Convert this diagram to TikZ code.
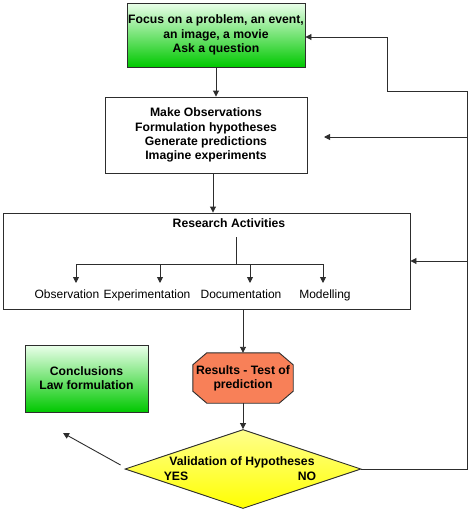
\documentclass[tikz,border=0pt]{standalone}
\usepackage{fontspec}
\setmainfont{Liberation Sans}
\usetikzlibrary{shapes.geometric,arrows.meta}
\definecolor{linegray}{RGB}{45,45,45}
\definecolor{boxgreen}{RGB}{0,200,0}
\definecolor{octfill}{RGB}{248,128,88}
\begin{document}
\begin{tikzpicture}[x=1pt,y=-1pt,
  every node/.style={font=\fontsize{12.2}{14.2}\selectfont, align=center, inner sep=0pt},
  plainbox/.style={draw=linegray, line width=0.9pt, fill=white},
  greenbox/.style={draw=linegray, line width=0.9pt, top color=green!8!white, bottom color=boxgreen},
  bold/.style={font=\fontsize{12.2}{14.2}\selectfont\bfseries},
  lbl/.style={font=\fontsize{12}{14}\selectfont, anchor=base},
  conn/.style={draw=linegray, line width=0.9pt},
  arr/.style={conn, -{Triangle[length=6pt,width=6pt]}}
]
\useasboundingbox (0,0) rectangle (474,515);

% boxes
\node[greenbox, bold, minimum width=178pt, minimum height=64pt] (focus) at (216,35)
  {Focus on a problem, an event,\\ an image, a movie\\ Ask a question};
\node[plainbox, bold, minimum width=202pt, minimum height=76pt] (obs) at (206,135)
  {Make Observations\\ Formulation hypotheses\\ Generate predictions\\ Imagine experiments};
\node[plainbox, minimum width=407pt, minimum height=96pt] (res) at (206.5,261) {};
\node[bold] (restitle) at (229,223) {Research Activities};
\coordinate (split) at (236,237);
\coordinate (bar) at (236,264);
\node[lbl] (a1) at (67,298.5) {Observation};
\node[lbl] (a2) at (147,298.5) {Experimentation};
\node[lbl] (a3) at (241,298.5) {Documentation};
\node[lbl] (a4) at (325,298.5) {Modelling};
\coordinate (b1) at (76,264);
\coordinate (b2) at (160,264);
\coordinate (b3) at (250,264);
\coordinate (b4) at (323,264);

% octagon
\node[bold, minimum width=100pt, minimum height=50pt] (result) at (243,378) {};
\filldraw[draw=linegray, line width=0.9pt, fill=octfill]
  ([xshift=14pt]result.north west) -- ([xshift=-14pt]result.north east)
  -- ([yshift=-12pt]result.north east) -- ([yshift=12pt]result.south east)
  -- ([xshift=-14pt]result.south east) -- ([xshift=14pt]result.south west)
  -- ([yshift=12pt]result.south west) -- ([yshift=-12pt]result.north west) -- cycle;
\node[bold] (resultt) at (result.center) {Results - Test of\\ prediction};

\node[greenbox, bold, minimum width=123pt, minimum height=67pt] (concl) at (86.5,378.5)
  {Conclusions\\ Law formulation};
\node[diamond, draw=linegray, line width=0.9pt, top color=yellow!45!white, bottom color=yellow,
  minimum width=236pt, minimum height=79pt] (valid) at (243,469) {};
\node[bold] (validt) at (242,462) {Validation of Hypotheses};
\node[bold] (yes) at (176,476) {YES};
\node[bold] (no) at (307,476) {NO};

% main flow
\draw[arr] (focus.south -| 216,0) -- (obs.north -| 216,0);
\draw[arr] (obs.south -| 213,0) -- (res.north -| 213,0);
\draw[arr] (res.south -| 243,0) -- (result.north);
\draw[arr] (result.south) -- (result.south |- valid.north);

% research activities tree
\draw[conn] (split) -- (bar);
\draw[conn] (b1) -- (b4);
\draw[arr] (b1) -- ++(0,19);
\draw[arr] (b2) -- ++(0,19);
\draw[arr] (b3) -- ++(0,19);
\draw[arr] (b4) -- ++(0,19);

% YES arrow
\coordinate (yesend) at (63,433);
\draw[arr] (valid.west) ++(-4,-4) -- (yesend);

% NO feedback loop
\coordinate (r0) at (467,469);
\coordinate (r1) at (467,91);
\coordinate (r2) at (387,91);
\coordinate (r3) at (387,37);
\draw[conn] (valid.east) -- (r0) -- (r1) -- (r2) -- (r3);
\draw[arr] (r3) -- (focus.east |- r3);
\coordinate (r4) at (467,137);
\draw[arr] (r4) -- (324,137);
\coordinate (r5) at (467,261);
\draw[arr] (r5) -- (res.east |- r5);
\end{tikzpicture}
\end{document}
